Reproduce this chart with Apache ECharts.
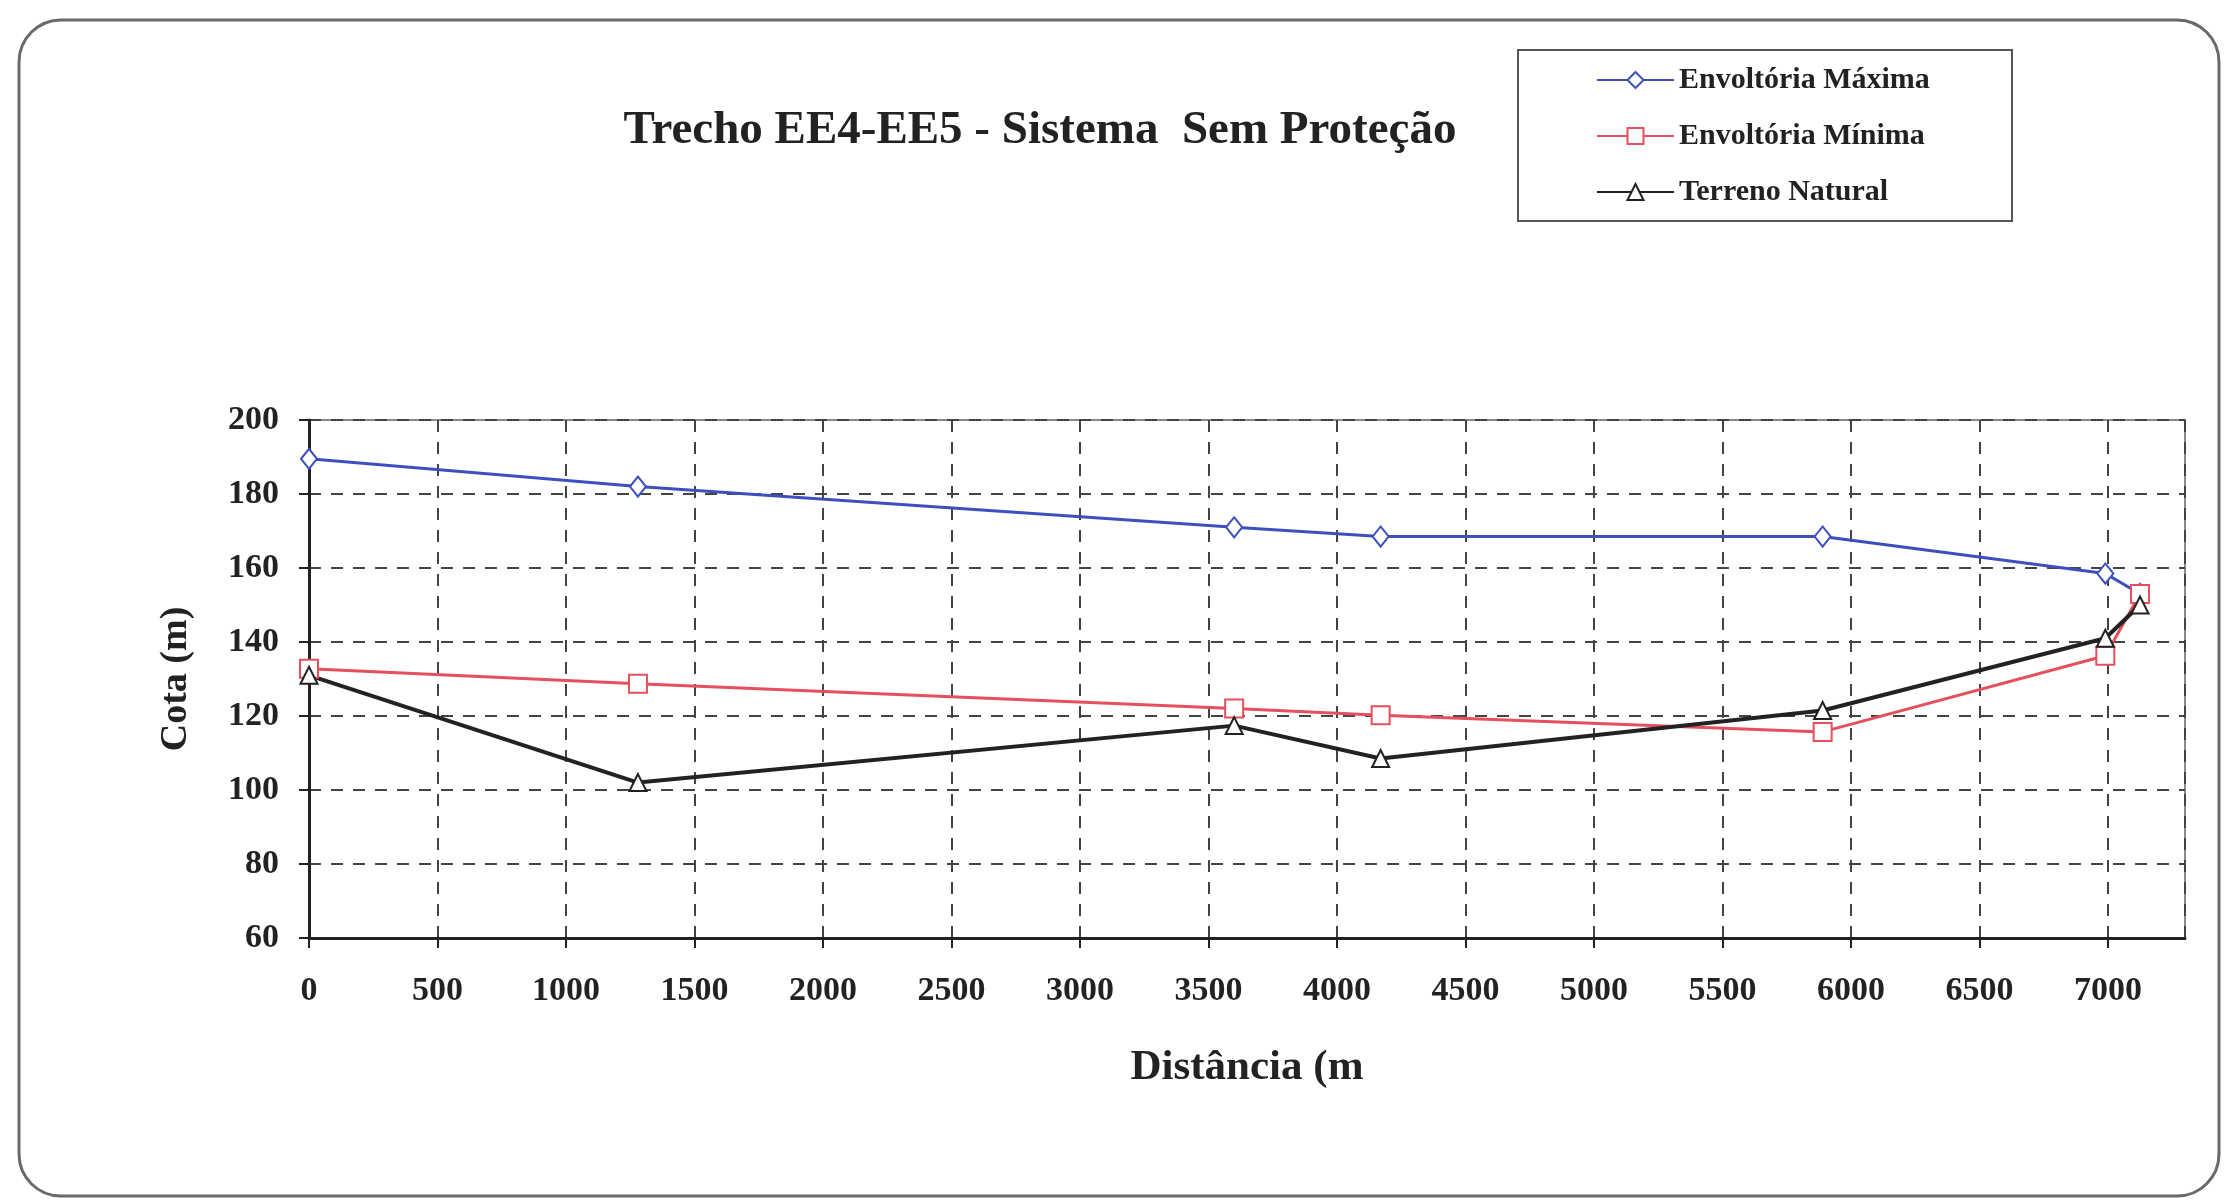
<!DOCTYPE html>
<html>
<head>
<meta charset="utf-8">
<title>Trecho EE4-EE5 - Sistema Sem Proteção</title>
<script src="https://cdn.jsdelivr.net/npm/echarts@6/dist/echarts.min.js"></script>
<style>
    html, body {margin:0;padding:0;background:#fff;}
    #grafico {width:2225px;height:1203px;}
</style>
</head>
<body>
<div id="grafico"></div>
<script>
    // dados
    var distancia = [0, 1280, 3600, 4170, 5890, 6990, 7125];
    var envMaxima = [189.5, 182, 171, 168.5, 168.5, 158.5, 153];
    var envMinima = [132.8, 128.7, 122, 120.2, 115.7, 136.3, 153];
    var terreno   = [131, 102, 117.4, 108.5, 121.5, 141, 150];
    var nomes = ['Envoltória Máxima', 'Envoltória Mínima', 'Terreno Natural'];

    var fonte = "'Liberation Serif', 'Times New Roman', serif";

    function pares(ys) {
        var out = [];
        for (var i = 0; i < distancia.length; i++) {
            out.push([distancia[i], ys[i]]);
        }
        return out;
    }

    var dom = document.getElementById("grafico");
    var myChart = echarts.init(dom);
    var option = {
        backgroundColor: '#fff',
        animation: false,
        graphic: [
            {
                type: 'rect',
                shape: {x: 19, y: 20, width: 2200, height: 1176, r: 42},
                style: {fill: 'none', stroke: '#6a6a6a', lineWidth: 3}
            },
            {
                type: 'rect',
                shape: {x: 1518, y: 50, width: 494, height: 171},
                style: {fill: 'none', stroke: '#555', lineWidth: 2}
            },
            {
                type: 'text',
                x: 1040,
                y: 131,
                style: {
                    text: 'Trecho EE4-EE5 - Sistema  Sem Proteção',
                    font: 'bold 47px ' + fonte,
                    fill: '#222',
                    textAlign: 'center',
                    textVerticalAlign: 'middle'
                }
            }
        ],
        legend: {
            orient: 'vertical',
            left: 1591,
            top: 60,
            itemWidth: 77,
            itemHeight: 20,
            itemGap: 26,
            data: nomes,
            textStyle: {
                fontFamily: fonte,
                fontWeight: 'bold',
                fontSize: 30,
                lineHeight: 30,
                color: '#222'
            }
        },
        grid: {
            left: 309,
            top: 420,
            width: 1876,
            height: 518,
            show: true,
            borderColor: '#8a8a8a',
            borderWidth: 2
        },
        xAxis: {
            type: 'value',
            min: 0,
            max: 7300,
            interval: 500,
            name: 'Distância (m',
            nameLocation: 'middle',
            nameGap: 108,
            nameTextStyle: {fontFamily: fonte, fontWeight: 'bold', fontSize: 43, color: '#222'},
            axisLine: {lineStyle: {color: '#222', width: 3}},
            axisTick: {show: true, length: 10, lineStyle: {color: '#222', width: 2}},
            axisLabel: {
                showMaxLabel: false,
                margin: 36,
                formatter: function (v) { return String(v); },
                fontFamily: fonte,
                fontWeight: 'bold',
                fontSize: 34,
                color: '#222'
            },
            splitLine: {show: true, lineStyle: {color: '#444', width: 2, type: [12, 10]}}
        },
        yAxis: {
            type: 'value',
            min: 60,
            max: 200,
            interval: 20,
            name: 'Cota (m)',
            nameLocation: 'middle',
            nameRotate: 90,
            nameGap: 114,
            nameTextStyle: {fontFamily: fonte, fontWeight: 'bold', fontSize: 38, color: '#222'},
            axisLine: {show: true, lineStyle: {color: '#222', width: 3}},
            axisTick: {show: true, length: 10, lineStyle: {color: '#222', width: 2}},
            axisLabel: {
                margin: 30,
                fontFamily: fonte,
                fontWeight: 'bold',
                fontSize: 34,
                color: '#222'
            },
            splitLine: {show: true, lineStyle: {color: '#444', width: 2, type: [12, 10]}}
        },
        series: [
            {
                name: nomes[0],
                type: 'line',
                data: pares(envMaxima),
                color: '#3d4fbf',
                symbol: 'emptyDiamond',
                symbolSize: [16, 20],
                lineStyle: {width: 3},
                itemStyle: {borderWidth: 3}
            },
            {
                name: nomes[1],
                type: 'line',
                data: pares(envMinima),
                color: '#e5505c',
                symbol: 'emptyRect',
                symbolSize: 18,
                lineStyle: {width: 3},
                itemStyle: {borderWidth: 3}
            },
            {
                name: nomes[2],
                type: 'line',
                data: pares(terreno),
                color: '#222',
                symbol: 'emptyTriangle',
                symbolSize: 17,
                lineStyle: {width: 4},
                itemStyle: {borderWidth: 3}
            }
        ]
    };

    if (option && typeof option === "object") {
        myChart.setOption(option, true);
    }
</script>
</body>
</html>
